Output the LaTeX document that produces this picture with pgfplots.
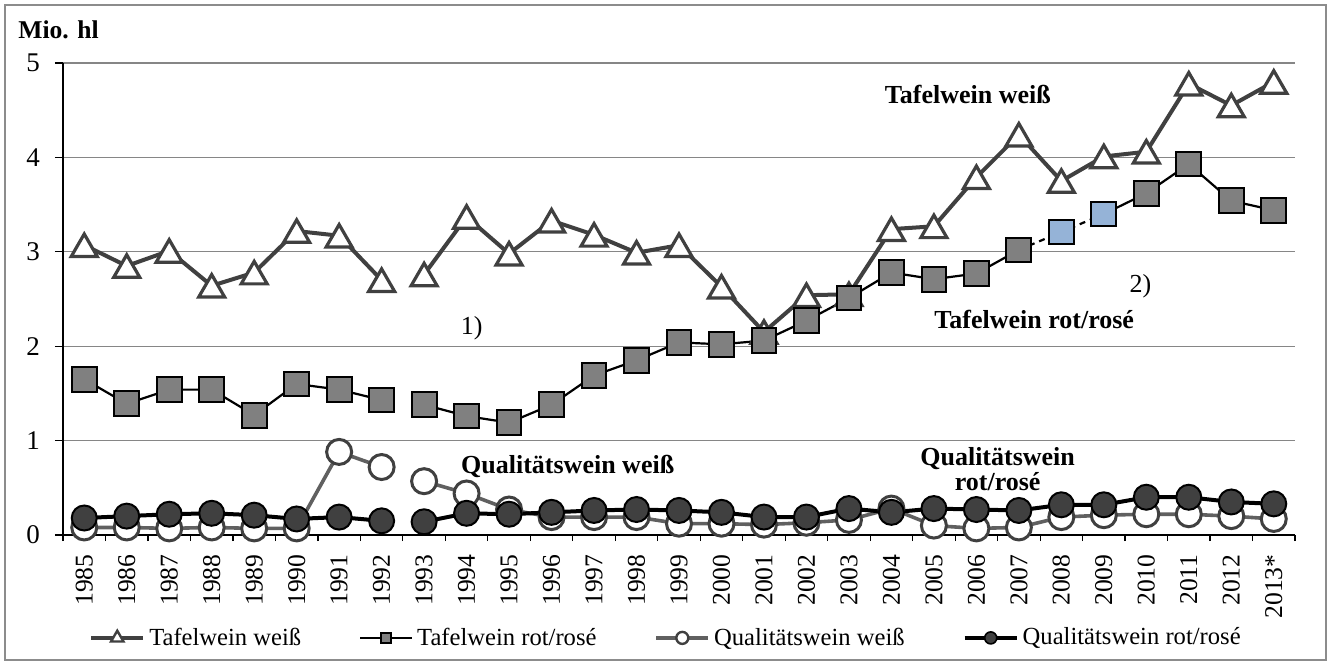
\documentclass[border=0pt]{standalone}
\usepackage{fontspec}
\setmainfont{Liberation Serif}
\usepackage{pgfplots}
\pgfplotsset{compat=1.18}
\definecolor{dgrey}{HTML}{404040}
\definecolor{mgrey}{HTML}{606060}
\definecolor{sqgrey}{HTML}{808080}
\definecolor{lblue}{HTML}{95B3D7}
\definecolor{gridgrey}{HTML}{868686}
\definecolor{framegrey}{HTML}{8C8C8C}

\begin{document}
\begin{tikzpicture}
\begin{axis}[
  at={(31.5pt,64.5pt)}, anchor=south west,
  scale only axis, width=616pt, height=236pt,
  xmin=-0.5, xmax=28.5, ymin=0, ymax=5,
  axis x line*=bottom, axis y line*=left,
  axis line style={line width=0.6pt},
  unbounded coords=jump,
  xtick={0,...,28},
  xticklabels={1985,1986,1987,1988,1989,1990,1991,1992,1993,1994,1995,1996,1997,1998,1999,
               2000,2001,2002,2003,2004,2005,2006,2007,2008,2009,2010,2011,2012,2013*},
  minor xtick={-0.5,0.5,...,28.5},
  ytick={0,...,5},
  major x tick style={draw=none},
  tick align=outside,
  major tick length=4pt, minor tick length=3pt,
  tick style={line width=0.6pt, black},
  ymajorgrids, grid style={gridgrey, line width=0.7pt},
  tick label style={font=\fontsize{12.8}{14}\selectfont},
  /pgf/number format/assume math mode=true,
  x tick label style={rotate=90, anchor=east, inner sep=5.5pt},
  y tick label style={font=\fontsize{13.5}{15}\selectfont, xshift=-4pt},
  legend columns=4,
  legend style={at={(axis description cs:0.021,-0.218)}, anchor=west,
    draw=none, fill=none, inner sep=0pt,
    font=\fontsize{12.3}{14}\selectfont,
    /tikz/every even column/.append style={column sep=27pt}},
  legend image code/.code={\draw[mark repeat=2, mark phase=2, #1]
    plot coordinates {(0pt,0pt) (13pt,0pt) (26pt,0pt)};},
]
\addlegendimage{dgrey, line width=2pt, mark=triangle*, mark size=3.6pt,
  mark options={fill=white, line width=1.2pt}}
\addlegendentry{Tafelwein weiß}
\addlegendimage{black, line width=1pt, mark=square*, mark size=2.4pt,
  mark options={fill=sqgrey}}
\addlegendentry{Tafelwein rot/rosé}
\addlegendimage{mgrey, line width=1.8pt, mark=*, mark size=3pt,
  mark options={fill=white, draw=dgrey, line width=1.2pt}}
\addlegendentry{Qualitätswein weiß}
\addlegendimage{black, line width=2pt, mark=*, mark size=3pt,
  mark options={fill=dgrey, draw=black, line width=0.8pt}}
\addlegendentry{Qualitätswein rot/rosé}

% Tafelwein weiss
\addplot[forget plot, dgrey, line width=2pt, mark=triangle*, mark size=7.5pt,
  mark options={fill=white, draw=dgrey, line width=1.6pt, yshift=-1.9pt}]
  coordinates {(0,3.07) (1,2.85) (2,3.01) (3,2.64) (4,2.78) (5,3.22) (6,3.17) (7,2.70)
  (7.5,nan) (8,2.76) (9,3.37) (10,2.98) (11,3.33) (12,3.18) (13,2.99) (14,3.07) (15,2.63)
  (16,2.15) (17,2.54) (18,2.55) (19,3.24) (20,3.27) (21,3.79) (22,4.24) (23,3.75)
  (24,4.01) (25,4.06) (26,4.78) (27,4.55) (28,4.80)};

% Tafelwein rot/rose: solid line
\addplot[forget plot, black, line width=1.1pt, mark=none]
  coordinates {(0,1.65) (1,1.39) (2,1.54) (3,1.54) (4,1.27) (5,1.60) (6,1.54) (7,1.43)
  (7.5,nan) (8,1.38) (9,1.26) (10,1.19) (11,1.38) (12,1.69) (13,1.85) (14,2.04) (15,2.02)
  (16,2.06) (17,2.27) (18,2.51) (19,2.78) (20,2.71) (21,2.77) (22,3.02)
  (23,nan) (24,3.40) (25,3.62) (26,3.93) (27,3.54) (28,3.44)};
% dashed part
\addplot[forget plot, black, line width=1.1pt, mark=none, dash pattern=on 3pt off 2.5pt]
  coordinates {(22,3.02) (23,3.21) (24,3.40)};
% markers
\addplot[forget plot, only marks, mark=square*, mark size=6.2pt,
  mark options={fill=sqgrey, draw=black, line width=1pt}]
  coordinates {(0,1.65) (1,1.39) (2,1.54) (3,1.54) (4,1.27) (5,1.60) (6,1.54) (7,1.43)
  (8,1.38) (9,1.26) (10,1.19) (11,1.38) (12,1.69) (13,1.85) (14,2.04) (15,2.02)
  (16,2.06) (17,2.27) (18,2.51) (19,2.78) (20,2.71) (21,2.77) (22,3.02)
  (25,3.62) (26,3.93) (27,3.54) (28,3.44)};
\addplot[forget plot, only marks, mark=square*, mark size=6.2pt,
  mark options={fill=lblue, draw=black, line width=1pt}]
  coordinates {(23,3.21) (24,3.40)};

% Qualitaetswein weiss
\addplot[forget plot, mgrey, line width=1.8pt, mark=*, mark size=6.25pt,
  mark options={fill=white, draw=dgrey, line width=1.5pt}]
  coordinates {(0,0.08) (1,0.08) (2,0.07) (3,0.08) (4,0.07) (5,0.07) (6,0.88) (7,0.72)
  (7.5,nan) (8,0.57) (9,0.44) (10,0.27) (11,0.19) (12,0.19) (13,0.19) (14,0.12) (15,0.12)
  (16,0.11) (17,0.13) (18,0.16) (19,0.28) (20,0.10) (21,0.07) (22,0.08) (23,0.19)
  (24,0.21) (25,0.22) (26,0.22) (27,0.20) (28,0.17)};

% Qualitaetswein rot/rose
\addplot[forget plot, black, line width=2pt, mark=*, mark size=6.25pt,
  mark options={fill=dgrey, draw=black, line width=1pt}]
  coordinates {(0,0.18) (1,0.20) (2,0.22) (3,0.23) (4,0.21) (5,0.17) (6,0.19) (7,0.15)
  (7.5,nan) (8,0.14) (9,0.23) (10,0.22) (11,0.24) (12,0.26) (13,0.27) (14,0.26) (15,0.24)
  (16,0.19) (17,0.19) (18,0.28) (19,0.24) (20,0.28) (21,0.27) (22,0.26) (23,0.32)
  (24,0.32) (25,0.40) (26,0.40) (27,0.35) (28,0.33)};

% labels inside the plot
\node[font=\bfseries\fontsize{13}{15}\selectfont] at (axis cs:20.8,4.67) {Tafelwein weiß};
\node[font=\bfseries\fontsize{13}{15}\selectfont] at (axis cs:22.36,2.28) {Tafelwein rot/rosé};
\node[font=\bfseries\fontsize{13}{15}\selectfont] at (axis cs:11.38,0.73) {Qualitätswein weiß};
\node[font=\bfseries\fontsize{13}{12.5}\selectfont, align=center] at (axis cs:21.5,0.70)
  {Qualitätswein\\rot/rosé};
\node[font=\fontsize{13}{15}\selectfont] at (axis cs:9.12,2.19) {1)};
\node[font=\fontsize{13}{15}\selectfont] at (axis cs:24.86,2.64) {2)};
\end{axis}

\node[anchor=west, inner sep=0pt, font=\bfseries\fontsize{12.8}{15}\selectfont] at (9pt,317pt) {Mio. hl};
\draw[framegrey, line width=0.8pt] (2.5pt,2pt) rectangle (663pt,329.5pt);
\pgfresetboundingbox
\useasboundingbox (0,0) rectangle (665.5pt,332pt);
\end{tikzpicture}
\end{document}
